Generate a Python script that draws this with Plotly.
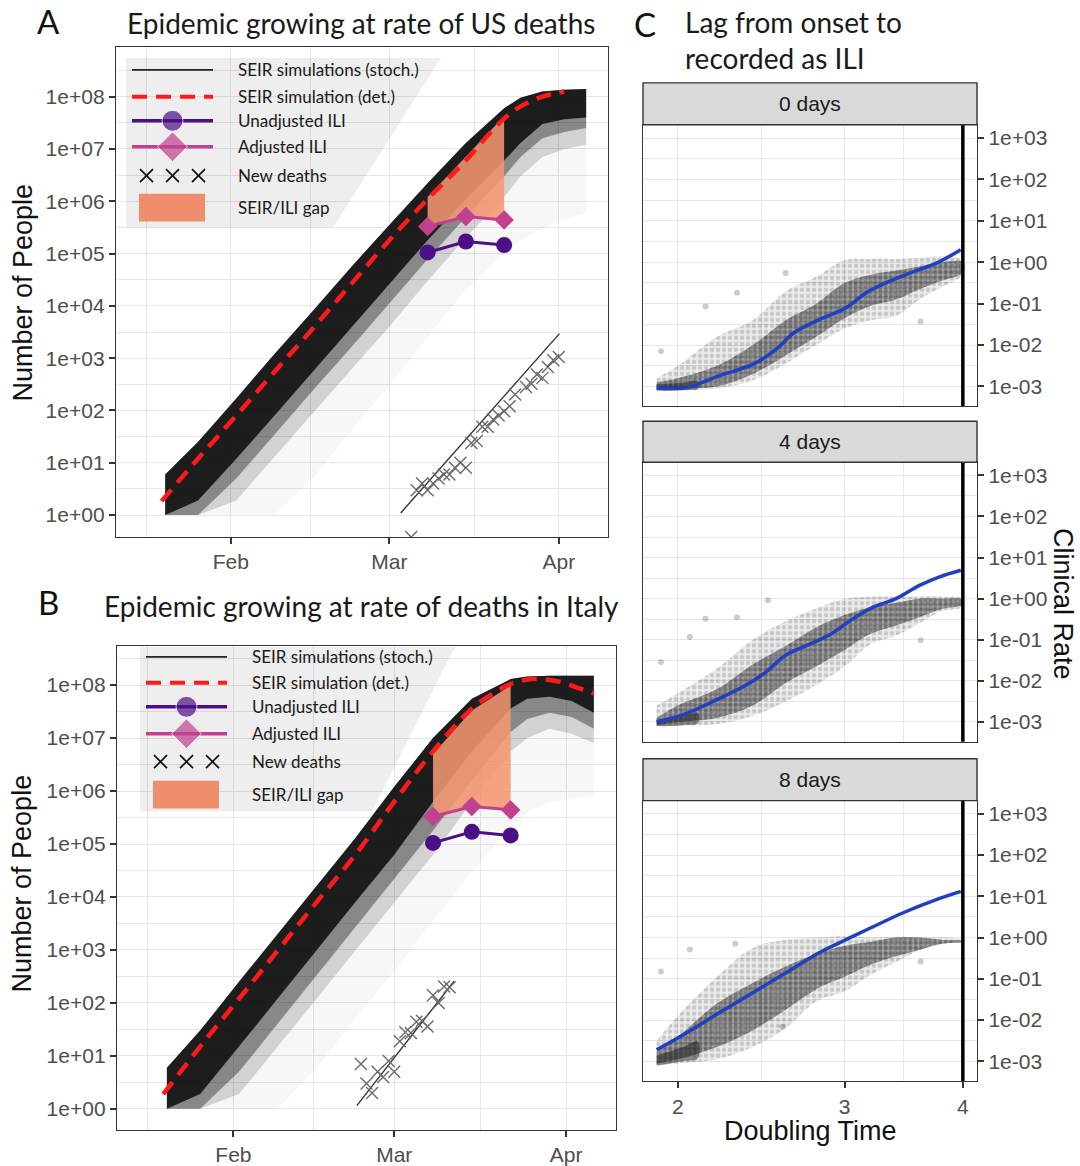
import numpy as np
import plotly.graph_objects as go

W, H = 1080, 1166

# ---------------- shared weekly ILI estimates ----------------
ili_dates = ["2020-03-08", "2020-03-15", "2020-03-22"]
ili_unadjusted = [1.05e5, 1.70e5, 1.45e5]
ili_adjusted = [3.3e5, 5.1e5, 4.4e5]

# ---------------- Panel A : US ----------------
detA_dates = ["2020-01-19 08:00", "2020-01-26", "2020-02-02", "2020-02-09", "2020-02-16",
              "2020-02-23", "2020-03-01", "2020-03-08", "2020-03-15", "2020-03-19",
              "2020-03-22", "2020-03-25", "2020-03-29", "2020-04-02"]
detA_vals = [1.85, 12, 80, 550, 3.7e3, 2.6e4, 1.8e5, 1.1e6, 6.0e6, 1.8e7, 3.8e7, 6.5e7, 1.0e8, 1.25e8]
gapA_top = [1.2e6, 7.0e6, 4.2e7]

band_dates = ["2020-01-20", "2020-01-26", "2020-02-02", "2020-02-09", "2020-02-16", "2020-02-23",
              "2020-03-01", "2020-03-08", "2020-03-15", "2020-03-22", "2020-03-25", "2020-03-29",
              "2020-04-02", "2020-04-06"]
# envelopes of the stochastic simulation bundle (upper edge, then lower edges of darker -> fainter zones)
bandA_upper = [6, 25, 170, 1.2e3, 8e3, 5.5e4, 3.5e5, 2.2e6, 1.3e7, 6.0e7, 9.5e7, 1.25e8, 1.35e8, 1.4e8]
bandA_core_low = [1, 1.9, 12, 80, 550, 3.7e3, 2.6e4, 1.8e5, 1.1e6, 6e6, 1.3e7, 3e7, 3.7e7, 4e7]
bandA_dark_low = [1, 1, 5, 35, 240, 1.6e3, 1.1e4, 7.8e4, 5e5, 3e6, 7e6, 1.6e7, 2.1e7, 2.5e7]
bandA_mid_low = [1, 1, 1.9, 13, 90, 600, 4e3, 3e4, 2e5, 1.2e6, 3e6, 7e6, 1e7, 1.2e7]
bandA_faint_low = [1, 1, 1, 1, 5, 40, 300, 2.5e3, 2e4, 1e5, 1.8e5, 3e5, 4.5e5, 6e5]

deathsA_dates = ["2020-03-05", "2020-03-06", "2020-03-07", "2020-03-08", "2020-03-09", "2020-03-10",
                 "2020-03-11", "2020-03-12", "2020-03-13", "2020-03-14", "2020-03-15", "2020-03-16",
                 "2020-03-17", "2020-03-18", "2020-03-19", "2020-03-20", "2020-03-21", "2020-03-22",
                 "2020-03-23", "2020-03-24", "2020-03-26", "2020-03-27", "2020-03-28", "2020-03-29",
                 "2020-03-30", "2020-03-31", "2020-04-01"]
deathsA = [0, 3, 4, 3, 4, 5, 6, 6, 8, 10, 8, 24, 26, 49, 49, 67, 80, 97, 121, 201, 282, 325,
           486, 420, 680, 910, 1050]
fitA_dates = ["2020-03-03 02:00", "2020-04-01 03:00"]
fitA_vals = [1.1, 2950]

# ---------------- Panel B : Italy ----------------
detB_dates = ["2020-01-19 08:00", "2020-01-26", "2020-02-02", "2020-02-09", "2020-02-16",
              "2020-02-23", "2020-03-01", "2020-03-08", "2020-03-15", "2020-03-19",
              "2020-03-22", "2020-03-26", "2020-03-31", "2020-04-03", "2020-04-06"]
detB_vals = [1.9, 15, 120, 980, 8e3, 6.3e4, 6.3e5, 5.6e6, 3.6e7, 7.1e7, 1.05e8, 1.3e8, 1.15e8, 9.0e7, 7.0e7]
gapB_top = [5.0e6, 3.3e7, 9.8e7]

bandB_upper = [6, 30, 250, 2e3, 1.6e4, 1.3e5, 1.2e6, 1.0e7, 5.5e7, 1.3e8, 1.45e8, 1.5e8, 1.5e8, 1.5e8]
bandB_core_low = [1, 1.9, 15, 120, 980, 8e3, 6.3e4, 6.3e5, 5.6e6, 3.6e7, 5.5e7, 6e7, 5e7, 3e7]
bandB_dark_low = [1, 1, 5, 40, 330, 2.7e3, 2.2e4, 1.8e5, 1.6e6, 1.3e7, 2.3e7, 3e7, 2.5e7, 1.5e7]
bandB_mid_low = [1, 1, 1.9, 15, 120, 980, 8e3, 6.3e4, 6.3e5, 5.6e6, 1e7, 1.5e7, 1.2e7, 8e6]
bandB_faint_low = [1, 1, 1, 1, 6, 50, 400, 3.5e3, 3e4, 2e5, 4e5, 6e5, 7e5, 8e5]

deathsB_dates = ["2020-02-24", "2020-02-25", "2020-02-26", "2020-02-27", "2020-02-28", "2020-02-29",
                 "2020-03-01", "2020-03-02", "2020-03-03", "2020-03-04", "2020-03-05", "2020-03-06",
                 "2020-03-07", "2020-03-08", "2020-03-09", "2020-03-10", "2020-03-11"]
deathsB = [7, 3, 2, 5, 4, 8, 5, 19, 28, 27, 44, 46, 36, 140, 100, 205, 198]
fitB_dates = ["2020-02-23 06:00", "2020-03-11 19:00"]
fitB_vals = [1.15, 257]

# ---------------- Panel C : clinical rate vs doubling time ----------------
lag_labels = ["0 days", "4 days", "8 days"]
observed_doubling = 4
cloud_x = [1.9, 2.0, 2.2, 2.4, 2.6, 2.8, 3.0, 3.2, 3.4, 3.6, 3.8, 4.0]
# log10 clinical-rate envelopes of the simulated points
c0_outer_lo = [-3.1, -3.1, -3.05, -2.85, -2.45, -2.0, -1.6, -1.4, -1.3, -0.9, -0.6, -0.3]
c0_outer_hi = [-2.8, -2.5, -1.8, -1.4, -0.7, -0.35, 0.05, 0.08, 0.08, 0.1, 0.15, 0.05]
c0_dense_lo = [-3.08, -3.05, -3.0, -2.7, -2.25, -1.8, -1.35, -1.05, -0.9, -0.65, -0.45, -0.25]
c0_dense_hi = [-2.9, -2.8, -2.5, -2.0, -1.4, -1.0, -0.5, -0.3, -0.2, -0.1, 0.0, 0.0]
c1_outer_lo = [-3.1, -3.1, -3.05, -2.85, -2.5, -2.1, -1.65, -1.1, -0.9, -0.6, -0.3, -0.2]
c1_outer_hi = [-2.6, -2.3, -1.7, -1.0, -0.55, -0.24, 0.0, 0.05, 0.05, 0.05, 0.05, 0.0]
c1_dense_lo = [-3.08, -3.0, -2.9, -2.6, -2.05, -1.65, -1.25, -0.85, -0.65, -0.45, -0.25, -0.15]
c1_dense_hi = [-2.9, -2.6, -2.2, -1.6, -1.15, -0.7, -0.4, -0.2, -0.1, 0.0, 0.0, -0.02]
c2_outer_lo = [-3.1, -3.05, -2.95, -2.65, -2.2, -1.55, -1.3, -0.9, -0.6, -0.3, -0.15, -0.1]
c2_outer_hi = [-2.5, -1.9, -0.95, -0.25, -0.05, 0.0, 0.03, 0.0, 0.02, 0.0, 0.0, -0.05]
c2_dense_lo = [-3.05, -2.95, -2.65, -2.25, -1.75, -1.25, -0.95, -0.65, -0.45, -0.3, -0.15, -0.1]
c2_dense_hi = [-2.75, -2.4, -1.6, -1.1, -0.7, -0.4, -0.2, -0.1, 0.0, 0.0, -0.05, -0.08]
# densely piled points at the fastest doubling times (log10)
pile_x = [1.9, 1.96, 2.03, 2.1]
c0_pile_lo = [-3.1, -3.1, -3.08, -3.06]
c0_pile_hi = [-2.94, -2.93, -2.91, -2.88]
c1_pile_lo = [-3.1, -3.1, -3.07, -3.03]
c1_pile_hi = [-2.94, -2.9, -2.84, -2.78]
c2_pile_lo = [-3.1, -3.05, -2.99, -2.93]
c2_pile_hi = [-2.86, -2.76, -2.64, -2.52]
# isolated simulated points visible away from the cloud (doubling time, log10 rate)
c0_out_x = [1.92, 2.14, 2.31, 3.61, 2.60]
c0_out_y = [-2.15, -1.07, -0.74, -1.43, -0.26]
c1_out_x = [1.92, 2.14, 2.31, 2.06, 3.61, 2.49]
c1_out_y = [-1.54, -0.49, -0.45, -0.93, -1.01, -0.04]
c2_out_x = [1.92, 2.06, 3.61, 2.58, 2.30]
c2_out_y = [-0.82, -0.29, -0.58, -2.16, -0.15]

smooth0_x = [1.90, 2.04, 2.21, 2.40, 2.54, 2.65, 2.82, 3.01, 3.16, 3.32, 3.52, 3.75, 3.98]
smooth0_y = [9.3e-4, 9.3e-4, 1.8e-3, 3.4e-3, 7.8e-3, 0.0195, 0.041, 0.079, 0.18, 0.32, 0.55, 0.95, 2.0]
smooth1_x = [1.90, 2.04, 2.21, 2.36, 2.48, 2.60, 2.735, 2.89, 3.06, 3.22, 3.40, 3.60, 3.78, 3.98]
smooth1_y = [1.0e-3, 1.6e-3, 3.7e-3, 7.8e-3, 0.0166, 0.042, 0.072, 0.13, 0.32, 0.63, 1.0, 2.1, 3.4, 4.9]
smooth2_x = [1.90, 2.04, 2.21, 2.40, 2.60, 2.82, 3.01, 3.22, 3.46, 3.75, 3.98]
smooth2_y = [1.9e-3, 4.8e-3, 0.0148, 0.046, 0.138, 0.43, 0.89, 1.86, 4.0, 8.3, 13.2]

# ---------------- tick labels ----------------
yA_tickvals = [1, 10, 100, 1e3, 1e4, 1e5, 1e6, 1e7, 1e8]
yA_ticktext = ["1e+00", "1e+01", "1e+02", "1e+03", "1e+04", "1e+05", "1e+06", "1e+07", "1e+08"]
month_vals = ["2020-02-01", "2020-03-01", "2020-04-01"]
month_text = ["Feb", "Mar", "Apr"]
yC_tickvals = [1e-3, 1e-2, 1e-1, 1, 10, 100, 1e3]
yC_ticktext = ["1e-03", "1e-02", "1e-01", "1e+00", "1e+01", "1e+02", "1e+03"]
xC_tickvals = [2, 3, 4]

# ======================================================================
def fx(p):
    return p / W


def fy(p):
    return 1 - p / H


GRID = "#E6E6E6"
BORDER = "#333333"
TICKFONT = dict(family="Liberation Sans, Arial", size=21, color="#4D4D4D")
TITLEFONT = dict(family="Lato, Open Sans", size=28, color="#1a1a1a")

fig = go.Figure()


def poly(xs, lo, hi):
    return list(xs) + list(xs)[::-1], list(hi) + list(lo)[::-1]


def add_epidemic(ax, det_d, det_v, up, lows, gap_top, d_dates, d_vals, f_dates, f_vals, ymin):
    xa, ya = ("x", "y") if ax == 1 else ("x%d" % ax, "y%d" % ax)
    cols = ["rgba(0,0,0,0.03)", "rgba(0,0,0,0.15)", "rgba(0,0,0,0.35)", "rgba(12,12,12,0.86)"]
    for lo, col in zip(lows, cols):
        px_, py_ = poly(band_dates, lo, up)
        fig.add_trace(go.Scatter(x=px_, y=py_, fill="toself", fillcolor=col, mode="lines",
                                 line=dict(width=0), hoverinfo="skip", showlegend=False, xaxis=xa, yaxis=ya))
    gx, gy = poly(ili_dates, ili_adjusted, gap_top)
    fig.add_trace(go.Scatter(x=gx, y=gy, fill="toself", fillcolor="rgba(245,150,115,0.88)", mode="lines",
                             line=dict(width=0), showlegend=False, xaxis=xa, yaxis=ya))
    fig.add_trace(go.Scatter(x=det_d, y=det_v, mode="lines",
                             line=dict(color="#FF1A1A", width=4.5, dash="15px,9px", shape="spline"),
                             showlegend=False, xaxis=xa, yaxis=ya))
    fig.add_trace(go.Scatter(x=ili_dates, y=ili_adjusted, mode="lines+markers",
                             line=dict(color="#C2418F", width=3), marker=dict(symbol="diamond", size=15, color="#C2418F"),
                             showlegend=False, xaxis=xa, yaxis=ya))
    fig.add_trace(go.Scatter(x=ili_dates, y=ili_unadjusted, mode="lines+markers",
                             line=dict(color="#4B0F87", width=3), marker=dict(symbol="circle", size=16, color="#4B0F87"),
                             showlegend=False, xaxis=xa, yaxis=ya))
    fig.add_trace(go.Scatter(x=f_dates, y=f_vals, mode="lines", line=dict(color="#333333", width=1.4),
                             showlegend=False, xaxis=xa, yaxis=ya))
    dv = [v if v > 0 else ymin for v in d_vals]
    fig.add_trace(go.Scatter(x=d_dates, y=dv, mode="markers",
                             marker=dict(symbol="x-thin", size=12, line=dict(color="#6A6A6A", width=1.4)),
                             showlegend=False, xaxis=xa, yaxis=ya))


yA_range = [-0.42, 8.95]
add_epidemic(1, detA_dates, detA_vals, bandA_upper,
             [bandA_faint_low, bandA_mid_low, bandA_dark_low, bandA_core_low],
             gapA_top, deathsA_dates, deathsA, fitA_dates, fitA_vals, 10 ** yA_range[0])
yB_range = [-0.40, 8.74]
add_epidemic(2, detB_dates, detB_vals, bandB_upper,
             [bandB_faint_low, bandB_mid_low, bandB_dark_low, bandB_core_low],
             gapB_top, deathsB_dates, deathsB, fitB_dates, fitB_vals, 10 ** yB_range[0])

clouds = [(c0_outer_lo, c0_outer_hi, c0_dense_lo, c0_dense_hi, c0_pile_lo, c0_pile_hi, c0_out_x, c0_out_y,
           smooth0_x, smooth0_y),
          (c1_outer_lo, c1_outer_hi, c1_dense_lo, c1_dense_hi, c1_pile_lo, c1_pile_hi, c1_out_x, c1_out_y,
           smooth1_x, smooth1_y),
          (c2_outer_lo, c2_outer_hi, c2_dense_lo, c2_dense_hi, c2_pile_lo, c2_pile_hi, c2_out_x, c2_out_y,
           smooth2_x, smooth2_y)]
for i, (olo, ohi, dlo, dhi, plo, phi, ox, oy, sx, sy) in enumerate(clouds):
    xa, ya = "x%d" % (i + 3), "y%d" % (i + 3)
    px_, py_ = poly(cloud_x, [10 ** v for v in olo], [10 ** v for v in ohi])
    fig.add_trace(go.Scatter(x=px_, y=py_, fill="toself", mode="lines", line=dict(width=0, shape="spline"),
                             fillcolor="rgba(0,0,0,0.10)",
                             fillpattern=dict(shape=".", size=6, solidity=0.45, fgcolor="rgba(0,0,0,0.30)",
                                              bgcolor="rgba(0,0,0,0.08)", fillmode="overlay"),
                             showlegend=False, xaxis=xa, yaxis=ya))
    px_, py_ = poly(cloud_x, [10 ** v for v in dlo], [10 ** v for v in dhi])
    fig.add_trace(go.Scatter(x=px_, y=py_, fill="toself", mode="lines", line=dict(width=0, shape="spline"),
                             fillcolor="rgba(0,0,0,0.34)",
                             fillpattern=dict(shape=".", size=5, solidity=0.6, fgcolor="rgba(0,0,0,0.5)",
                                              bgcolor="rgba(0,0,0,0.30)", fillmode="overlay"),
                             showlegend=False, xaxis=xa, yaxis=ya))
    px_, py_ = poly(pile_x, [10 ** v for v in plo], [10 ** v for v in phi])
    fig.add_trace(go.Scatter(x=px_, y=py_, fill="toself", mode="lines", line=dict(width=0, shape="spline"),
                             fillcolor="rgba(0,0,0,0.42)", showlegend=False, xaxis=xa, yaxis=ya))
    fig.add_trace(go.Scatter(x=ox, y=[10 ** v for v in oy], mode="markers",
                             marker=dict(size=6, color="rgba(0,0,0,0.2)"), showlegend=False, xaxis=xa, yaxis=ya))
    fig.add_trace(go.Scatter(x=sx, y=sy, mode="lines", line=dict(color="#2040C0", width=3.5, shape="spline"),
                             showlegend=False, xaxis=xa, yaxis=ya))
    fig.add_trace(go.Scatter(x=[observed_doubling, observed_doubling], y=[1e-5, 1e5], mode="lines",
                             line=dict(color="black", width=3.5), showlegend=False, xaxis=xa, yaxis=ya))

# ---------------- legends (drawn in a pixel-space overlay) ----------------
OV = dict(xaxis="x6", yaxis="y6", showlegend=False, hoverinfo="skip")
legend_labels = ["SEIR simulations (stoch.)", "SEIR simulation (det.)", "Unadjusted ILI",
                 "Adjusted ILI", "New deaths", "SEIR/ILI gap"]


def add_legend(bg, rows, kx0, kx1, tx):
    bx = [p[0] for p in bg] + [bg[0][0]]
    by = [p[1] for p in bg] + [bg[0][1]]
    fig.add_trace(go.Scatter(x=bx, y=by, fill="toself", fillcolor="rgba(0,0,0,0.065)", mode="lines",
                             line=dict(width=0), **OV))
    kc = (kx0 + kx1) / 2
    fig.add_trace(go.Scatter(x=[kx0, kx1], y=[rows[0]] * 2, mode="lines", line=dict(color="#222", width=1.6), **OV))
    fig.add_trace(go.Scatter(x=[kx0, kx1], y=[rows[1]] * 2, mode="lines",
                             line=dict(color="#FF1A1A", width=4, dash="15px,9px"), **OV))
    fig.add_trace(go.Scatter(x=[kx0, kc, kx1], y=[rows[2]] * 3, mode="lines+markers",
                             line=dict(color="#4B0F87", width=3.5),
                             marker=dict(size=[0, 21, 0], color="#4B0F87"), **OV))
    fig.add_trace(go.Scatter(x=[kx0, kc, kx1], y=[rows[3]] * 3, mode="lines+markers",
                             line=dict(color="#C2418F", width=3.5),
                             marker=dict(size=[0, 23, 0], symbol="diamond", color="#C2418F"), **OV))
    fig.add_trace(go.Scatter(x=[kc - 26, kc, kc + 26], y=[rows[4]] * 3, mode="markers",
                             marker=dict(symbol="x-thin", size=13, line=dict(color="#111", width=1.7)), **OV))
    fig.add_trace(go.Scatter(x=[kx0 + 7, kx1 - 8, kx1 - 8, kx0 + 7, kx0 + 7],
                             y=[rows[5] - 14, rows[5] - 14, rows[5] + 14, rows[5] + 14, rows[5] - 14],
                             fill="toself", fillcolor="#EE8E6C", mode="lines", line=dict(width=0), **OV))
    for r, t in zip(rows, legend_labels):
        fig.add_annotation(x=tx, y=r, xref="x6", yref="y6", text=t, showarrow=False, xanchor="left",
                           yanchor="middle", font=dict(family="Lato, Open Sans", size=17, color="#1a1a1a"))


add_legend([(126, 58), (441, 58), (333, 228), (126, 228)], [70, 97, 121, 147, 176, 208], 132, 213, 236)
add_legend([(140, 648), (455, 648), (372, 813), (140, 813)], [658, 684, 708, 735, 763, 796], 146, 227, 250)


# ---------------- axes ----------------
def date_axis(dom, anchor):
    return dict(domain=dom, anchor=anchor, type="date", range=["2020-01-11", "2020-04-10"],
                tickmode="array", tickvals=month_vals, ticktext=month_text, ticks="outside", ticklen=6,
                tickwidth=1.5, tickcolor=BORDER, tickfont=TICKFONT, showgrid=True, gridcolor=GRID, gridwidth=1.4,
                minor=dict(tickvals=["2020-01-16 12:00", "2020-02-15 12:00", "2020-03-16 12:00"],
                           showgrid=True, gridcolor=GRID, gridwidth=0.8, ticks=""),
                showline=True, linecolor=BORDER, linewidth=1.4, mirror=True, zeroline=False)


def log_axis(dom, anchor, rng):
    return dict(domain=dom, anchor=anchor, type="log", range=rng, tickmode="array", tickvals=yA_tickvals,
                ticktext=yA_ticktext, ticks="outside", ticklen=6, tickwidth=1.5, tickcolor=BORDER,
                tickfont=TICKFONT, showgrid=True, gridcolor=GRID, gridwidth=1.4,
                minor=dict(tickvals=[10 ** (k + 0.5) for k in range(-1, 9)], showgrid=True, gridcolor=GRID,
                           gridwidth=0.8, ticks=""),
                showline=True, linecolor=BORDER, linewidth=1.4, mirror=True, zeroline=False)


layout = dict(
    width=W, height=H, margin=dict(l=0, r=0, t=0, b=0), paper_bgcolor="white", plot_bgcolor="rgba(0,0,0,0)",
    showlegend=False,
    xaxis=date_axis([fx(116), fx(608)], "y"),
    yaxis=log_axis([fy(538), fy(47)], "x", yA_range),
    xaxis2=date_axis([fx(117), fx(616)], "y2"),
    yaxis2=log_axis([fy(1132), fy(647)], "x2", yB_range),
    xaxis6=dict(domain=[0, 1], anchor="y6", range=[0, W], visible=False, fixedrange=True),
    yaxis6=dict(domain=[0, 1], anchor="x6", range=[H, 0], visible=False, fixedrange=True),
)
facet_px = [(125, 407), (463, 743), (802, 1083)]
for i, (t, b) in enumerate(facet_px):
    k = i + 3
    layout["xaxis%d" % k] = dict(domain=[fx(643), fx(977)], anchor="y%d" % k, type="log",
                                 range=[np.log10(1.838), np.log10(4.14)], tickmode="array", tickvals=xC_tickvals,
                                 ticks="outside" if i == 2 else "", ticklen=6, tickwidth=1.5, tickcolor=BORDER,
                                 showticklabels=(i == 2), tickfont=TICKFONT, showgrid=True, gridcolor=GRID,
                                 gridwidth=1.4,
                                 minor=dict(tickvals=[2.449, 3.464], showgrid=True, gridcolor=GRID, gridwidth=0.8,
                                            ticks=""),
                                 showline=True, linecolor=BORDER, linewidth=1.4, mirror=True, zeroline=False)
    layout["yaxis%d" % k] = dict(domain=[fy(b), fy(t)], anchor="x%d" % k, type="log", side="right",
                                 range=[-3.48, 3.32], tickmode="array", tickvals=yC_tickvals, ticktext=yC_ticktext,
                                 ticks="outside", ticklen=6, tickwidth=1.5, tickcolor=BORDER, tickfont=TICKFONT,
                                 showgrid=True, gridcolor=GRID, gridwidth=1.4,
                                 minor=dict(tickvals=[10 ** (k2 + 0.5) for k2 in range(-4, 4)], showgrid=True,
                                            gridcolor=GRID, gridwidth=0.8, ticks=""),
                                 showline=True, linecolor=BORDER, linewidth=1.4, mirror=True, zeroline=False)
fig.update_layout(**layout)

# facet strips
strip_px = [(83, 125), (422, 463), (760, 802)]
for (t, b), lab in zip(strip_px, lag_labels):
    fig.add_shape(type="rect", xref="x6", yref="y6", x0=643, x1=977, y0=t, y1=b,
                  fillcolor="#D9D9D9", line=dict(color=BORDER, width=1.4), layer="above")
    fig.add_annotation(x=810, y=(t + b) / 2, xref="x6", yref="y6", text=lab, showarrow=False,
                       font=dict(family="Liberation Sans, Arial", size=21, color="#1a1a1a"))


def txt(x, y, s, font, xanchor="center", angle=0):
    fig.add_annotation(x=x, y=y, xref="x6", yref="y6", text=s, showarrow=False, xanchor=xanchor,
                       yanchor="middle", textangle=angle, font=font)


LET = dict(family="Lato, Open Sans", size=33, color="#111")
txt(48, 21, "A", LET)
txt(361, 23, "Epidemic growing at rate of US deaths", TITLEFONT)
txt(48, 603, "B", LET)
txt(361, 607, "Epidemic growing at rate of deaths in Italy", TITLEFONT)
txt(645, 24, "C", LET)
txt(683, 22, "Lag from onset to", TITLEFONT, xanchor="left")
txt(683, 58, "recorded as ILI", TITLEFONT, xanchor="left")
AXF = dict(family="Liberation Sans, Arial", size=27, color="#111")
txt(22, 293, "Number of People", AXF, angle=-90)
txt(22, 885, "Number of People", AXF, angle=-90)
txt(1063, 605, "Clinical Rate", AXF, angle=90)
txt(810, 1133, "Doubling Time", AXF)

fig.write_html("out.html", config={"displayModeBar": False},
               post_script="document.body.style.margin='0px';")
